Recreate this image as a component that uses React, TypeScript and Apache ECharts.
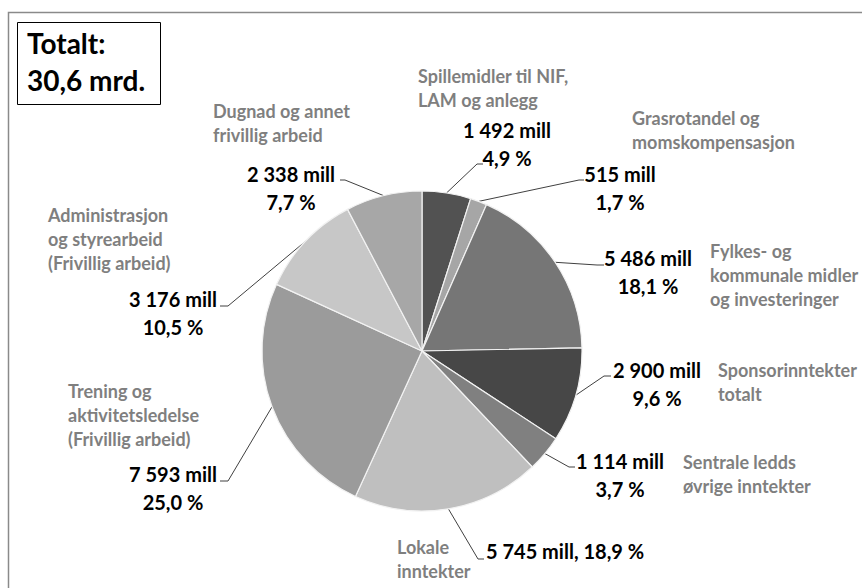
import React, { useEffect, useRef } from "react";
import * as echarts from "echarts";

// ---- data ----
const categories = [
  "Spillemidler til NIF,\nLAM og anlegg",
  "Grasrotandel og\nmomskompensasjon",
  "Fylkes- og\nkommunale midler\nog investeringer",
  "Sponsorinntekter\ntotalt",
  "Sentrale ledds\nøvrige inntekter",
  "Lokale\ninntekter",
  "Trening og\naktivitetsledelse\n(Frivillig arbeid)",
  "Administrasjon\nog styrearbeid\n(Frivillig arbeid)",
  "Dugnad og annet\nfrivillig arbeid",
];
const valuesMill = [1492, 515, 5486, 2900, 1114, 5745, 7593, 3176, 2338];
const titleLines = ["Totalt:", "30,6 mrd."];

// ---- styles / layout (not data) ----
const sliceColors = ["#525252", "#a6a6a6", "#767676", "#474747", "#808080", "#bfbfbf", "#9b9b9b", "#c7c7c7", "#a7a7a7"];
const FONT = "Lato, 'Open Sans', sans-serif";

type VL = { x: number; y: number; align: string; oneLine?: boolean; bend: number[]; end: number[] };
const valueLabelLayout: VL[] = [
  { x: 507, y: 144, align: "center", bend: [477, 164], end: [483, 164] },
  { x: 620, y: 187.5, align: "center", bend: [579, 180], end: [584, 180] },
  { x: 648, y: 272, align: "center", bend: [597, 265], end: [604, 265] },
  { x: 657, y: 384, align: "center", bend: [604, 376], end: [611, 376] },
  { x: 620, y: 475, align: "center", bend: [569, 467], end: [575, 467] },
  { x: 486, y: 551, align: "left", oneLine: true, bend: [478, 559], end: [484, 559] },
  { x: 173, y: 488, align: "center", bend: [228, 481], end: [220, 481] },
  { x: 173, y: 313, align: "center", bend: [228, 306], end: [220, 306] },
  { x: 291, y: 187.5, align: "center", bend: [345, 180], end: [340, 180] },
];
const nameLabelLayout = [
  { x: 418, y: 88 },
  { x: 632, y: 130 },
  { x: 710, y: 275 },
  { x: 718, y: 382 },
  { x: 683, y: 473.5 },
  { x: 397, y: 559 },
  { x: 68, y: 415 },
  { x: 48, y: 239 },
  { x: 213, y: 123 },
];

const fmtThousands = (v: number) => String(v).replace(/\B(?=(\d{3})+(?!\d))/g, " ");
const total = valuesMill.reduce((a, b) => a + b, 0);

export default function App() {
  const ref = useRef<HTMLDivElement>(null);
  useEffect(() => {
    if (!ref.current) return;
    const chart = echarts.init(ref.current, undefined, { renderer: "svg" });
    const data = categories.map((name, i) => ({
      name,
      value: valuesMill[i],
      itemStyle: { color: sliceColors[i] },
    }));
    const center = [422, 351];
    const radius = 160;
    chart.setOption({
      animation: false,
      backgroundColor: "#ffffff",
      graphic: [
        {
          type: "rect",
          shape: { x: 8.5, y: 12.5, width: 1000, height: 800 },
          style: { fill: "none", stroke: "#8a8a8a", lineWidth: 1.5 },
          silent: true,
        },
        {
          type: "rect",
          shape: { x: 17.5, y: 22.5, width: 143, height: 82 },
          style: { fill: "#ffffff", stroke: "#000000", lineWidth: 1 },
          silent: true,
        },
        {
          type: "text",
          x: 27,
          y: 43,
          style: { text: titleLines[0], fontFamily: FONT, fontWeight: "bold", fontSize: 28, fill: "#000", verticalAlign: "middle" },
        },
        {
          type: "text",
          x: 27,
          y: 80,
          style: { text: titleLines[1], fontFamily: FONT, fontWeight: "bold", fontSize: 28, fill: "#000", verticalAlign: "middle" },
        },
      ],
      series: [
        {
          type: "pie",
          center,
          radius,
          startAngle: 90,
          clockwise: true,
          avoidLabelOverlap: false,
          silent: true,
          data,
          itemStyle: { borderColor: "#f2f2f2", borderWidth: 1.2 },
          label: {
            show: true,
            position: "outside",
            fontFamily: FONT,
            fontWeight: "bold",
            fontSize: 20,
            lineHeight: 28,
            color: "#000000",
            formatter: (p: any) => {
              const pct = ((p.value / total) * 100).toFixed(1).replace(".", ",");
              const v = fmtThousands(p.value);
              return valueLabelLayout[p.dataIndex].oneLine ? `${v} mill, ${pct} %` : `${v} mill\n${pct} %`;
            },
          },
          labelLine: { show: true, length: 10, length2: 10, lineStyle: { color: "#404040", width: 1 } },
          labelLayout: (p: any) => {
            const L = valueLabelLayout[p.dataIndex];
            const a = p.labelLinePoints ? p.labelLinePoints[0] : null;
            const out: any = { x: L.x, y: L.y, align: L.align, verticalAlign: "middle" };
            if (a) out.labelLinePoints = [a, L.bend, L.end];
            return out;
          },
        },
        {
          type: "pie",
          center,
          radius,
          startAngle: 90,
          clockwise: true,
          avoidLabelOverlap: false,
          silent: true,
          data: data.map((d) => ({ name: d.name, value: d.value })),
          itemStyle: { color: "rgba(0,0,0,0)", borderWidth: 0 },
          label: {
            show: true,
            position: "outside",
            fontFamily: FONT,
            fontWeight: "bold",
            fontSize: 18,
            lineHeight: 24,
            color: "#7f7f7f",
            formatter: "{b}",
          },
          labelLine: { show: false },
          labelLayout: (p: any) => {
            const L = nameLabelLayout[p.dataIndex];
            return { x: L.x, y: L.y, align: "left", verticalAlign: "middle" };
          },
        },
      ],
    });
    return () => chart.dispose();
  }, []);
  return <div ref={ref} style={{ position: "absolute", left: 0, top: 0, width: 862, height: 588 }} />;
}
